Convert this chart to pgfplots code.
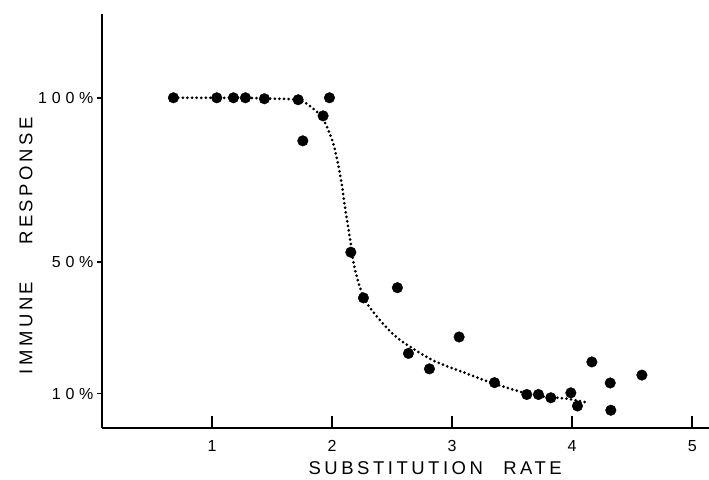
\documentclass[border=0pt]{standalone}
\usepackage{fontspec}
\setmainfont{Liberation Sans}
\newfontfamily\labfont[LetterSpace=19]{Liberation Sans}
\newfontfamily\tickfont[LetterSpace=30]{Liberation Sans}
\usepackage{pgfplots}
\pgfplotsset{compat=1.18}

\pgfplotsset{
  frame/.style={
    at={(102bp,52bp)}, anchor=south west,
    scale only axis, width=607bp, height=414bp,
    xmin=0.083, xmax=5.14, ymin=-0.5, ymax=125.5,
    axis line style={line width=1.5bp},
    tick style={line width=1.5bp, black},
    ticklabel style={font=\tickfont\fontsize{16bp}{16bp}\selectfont},
  },
}

\begin{document}
\begin{tikzpicture}
% x axis with long inside ticks, the data and both labels
\begin{axis}[
  frame,
  axis lines*=left,
  xtick={1,2,3,4,5}, xticklabels={1,2,3,4,5},
  ytick=\empty,
  xtick align=inside, major tick length=12bp,
  xticklabel style={yshift=-9bp},
  xlabel={\labfont\fontsize{18.5bp}{18.5bp}\selectfont SUBSTITUTION\hspace{1.1em}RATE},
  ylabel={\labfont\fontsize{18.5bp}{18.5bp}\selectfont IMMUNE\hspace{2em}RESPONSE},
  every axis x label/.style={at={(axis description cs:0.549,-0.097)}, anchor=center},
  every axis y label/.style={at={(axis description cs:-0.125,0.44)}, anchor=center, rotate=90},
  clip=false,
]
% fitted trend (dotted)
\addplot[black, smooth, tension=0.5, line width=3bp, line cap=round,
  dash pattern=on 0bp off 4.6bp] coordinates {
  (0.68,100) (1.04,100) (1.28,100) (1.44,99.8) (1.72,99.3) (1.85,96.5)
  (1.93,93.2) (2.01,86) (2.07,76) (2.11,66) (2.15,57) (2.18,49.6)
  (2.23,42.5) (2.29,37.4) (2.43,31) (2.57,26.2) (2.84,20.1) (3.12,16.1)
  (3.35,13.0) (3.68,9.5) (3.96,8.4) (4.14,7.1)
};
% observations
\addplot[only marks, mark=*, mark size=5.3bp, black] coordinates {
  (0.678,100) (1.039,100) (1.178,100) (1.278,100) (1.436,99.7)
  (1.717,99.4) (1.978,100) (1.925,94.5) (1.756,86.9)
  (2.156,53.0) (2.261,39.1) (2.544,42.2) (3.058,27.2) (2.636,22.2)
  (2.811,17.5) (3.353,13.3) (3.622,9.7) (3.719,9.7) (3.822,8.7)
  (3.989,10.2) (4.044,6.2) (4.164,19.6) (4.317,13.2) (4.322,4.9)
  (4.581,15.6)
};
\end{axis}
% y axis ticks: short, outside
\begin{axis}[
  frame,
  axis lines*=left, hide x axis,
  ytick={10,50,100}, yticklabels={10\%,50\%,100\%},
  ytick align=outside, major tick length=5bp,
]
\end{axis}
\pgfresetboundingbox
\path[use as bounding box] (0,0) rectangle (709bp,480bp);
\end{tikzpicture}
\end{document}
